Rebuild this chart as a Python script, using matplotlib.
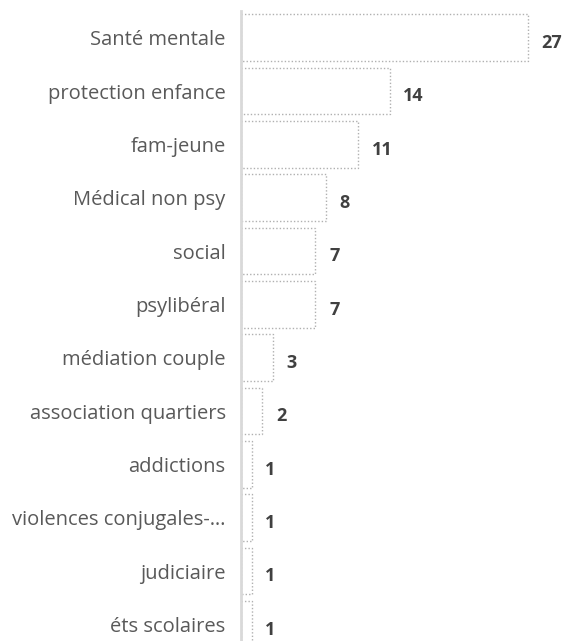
import matplotlib.pyplot as plt
import numpy as np

categories = [
    "Santé mentale", "protection enfance", "fam-jeune", "Médical non psy",
    "social", "psylibéral", "médiation couple", "association quartiers",
    "addictions", "violences conjugales-…", "judiciaire", "éts scolaires",
]
values = [27, 14, 11, 8, 7, 7, 3, 2, 1, 1, 1, 1]

plt.rcParams["font.family"] = ["Open Sans", "DejaVu Sans"]

fig = plt.figure(figsize=(5.7, 6.41), dpi=100)
# axis line from top ~11px down past bottom of image
ax = fig.add_axes([241 / 570, -10 / 641, 329 / 570, 640 / 641])

y = np.arange(len(categories))
ax.barh(y, values, height=0.87, color="white", edgecolor="#b0b0b0",
        linestyle=(0, (1, 1.5)), linewidth=1.0)

for yi, v in zip(y, values):
    ax.text(v + 1.3, yi + 0.1, str(v), va="center", ha="left",
            fontsize=13, fontweight="bold", color="#404040")

ax.set_xlim(0, 31)
ax.set_ylim(len(categories) - 0.5, -0.5)
ax.set_yticks(y)
ax.set_yticklabels(categories, fontsize=14.5, color="#595959")
ax.tick_params(axis="y", length=0, pad=11)
ax.set_xticks([])
for s in ["top", "right", "bottom"]:
    ax.spines[s].set_visible(False)
ax.spines["left"].set_color("#d9d9d9")
ax.spines["left"].set_linewidth(2)

fig.savefig("out.png", dpi=100)
